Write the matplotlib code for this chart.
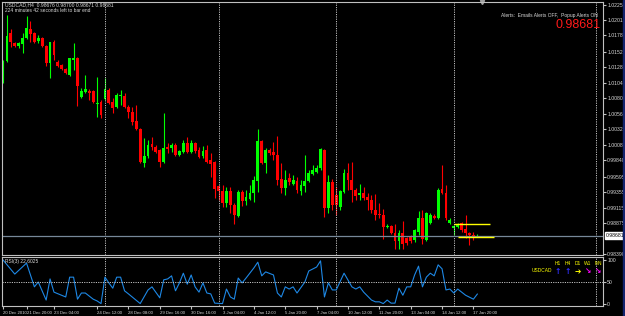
import numpy as np
import matplotlib
matplotlib.use('Agg')
import matplotlib.pyplot as plt
import matplotlib.transforms as mtrans
from matplotlib.patches import Rectangle

# USDCAD H4 candles, 20 Dec 2010 .. 17 Jan 2011
opens = [1.01385, 1.01385, 1.01819, 1.01664, 1.01618, 1.01649, 1.01742, 1.01881, 1.01819, 1.01695,
         1.01742, 1.01618, 1.01354, 1.01680, 1.01370, 1.01323, 1.01261, 1.01168, 1.01401, 1.01432,
         1.00827, 1.00905, 1.00920, 1.00920, 1.00719, 1.00750, 1.00796, 1.00936, 1.00750, 1.00672,
         1.00843, 1.00843, 1.00672, 1.00595, 1.00455, 1.00331, 0.99805, 0.99913, 1.00099, 1.00053,
         1.00006, 0.99820, 1.00053, 1.00037, 1.00084, 0.99929, 0.99975, 1.00115, 0.99975, 1.00115,
         1.00006, 0.99913, 1.00006, 0.99851, 0.99820, 0.99448, 0.99371, 0.99185, 0.99371, 0.99154,
         0.98983, 0.99355, 0.99216, 0.99247, 0.99340, 0.99526, 1.00146, 0.99805, 1.00006, 0.99975,
         0.99929, 0.99557, 0.99417, 0.99572, 0.99479, 0.99526, 0.99371, 0.99448, 0.99526, 0.99634,
         0.99665, 0.99727, 1.00006, 0.99107, 0.99510, 0.99309, 0.99123, 0.99355, 0.99650, 0.99541,
         0.99386, 0.99309, 0.99340, 0.99278, 0.99231, 0.99076, 0.99014, 0.98999, 0.98813, 0.98828,
         0.98720, 0.98595, 0.98720, 0.98642, 0.98658, 0.98611, 0.98735, 0.98952, 0.98611, 0.98875,
         0.98983, 0.98952, 0.99402, 0.99340, 0.98875, 0.98797, 0.98813, 0.98875, 0.98782, 0.98720,
         0.98689, 0.98676]
highs = [1.01401, 1.02099, 1.01881, 1.01680, 1.01680, 1.01819, 1.02083, 1.02006, 1.01835, 1.01788,
         1.01757, 1.01633, 1.01680, 1.01711, 1.01401, 1.01339, 1.01277, 1.01432, 1.01664, 1.01447,
         1.00967, 1.01168, 1.00951, 1.00936, 1.01137, 1.00781, 1.01122, 1.00967, 1.00812, 1.00889,
         1.00936, 1.00889, 1.00703, 1.00672, 1.00703, 1.00347, 1.00192, 1.00161, 1.00207, 1.00084,
         1.00022, 1.00579, 1.00115, 1.00115, 1.00115, 1.00006, 1.00161, 1.00207, 1.00161, 1.00130,
         1.00053, 1.00068, 1.00084, 0.99960, 0.99836, 0.99464, 0.99464, 0.99433, 0.99433, 0.99185,
         0.99386, 0.99386, 0.99386, 0.99464, 0.99603, 1.00331, 1.00161, 1.00037, 1.00037, 1.00130,
         1.00223, 0.99805, 0.99696, 0.99650, 0.99619, 0.99588, 0.99541, 0.99929, 0.99696, 0.99774,
         0.99774, 1.00037, 1.00022, 0.99619, 0.99557, 0.99433, 0.99386, 0.99712, 0.99805, 0.99820,
         0.99417, 0.99479, 0.99433, 0.99340, 0.99309, 0.99324, 0.99185, 0.99092, 0.98859, 0.98844,
         0.98859, 0.98766, 0.98906, 0.98658, 0.98689, 0.98782, 0.99061, 0.99076, 0.99045, 0.99030,
         0.99014, 0.99417, 0.99774, 0.99464, 0.98952, 0.98844, 0.98875, 0.98890, 0.98999, 0.98735,
         0.98735, 0.98700]
lows = [1.01044, 1.01370, 1.01602, 1.01602, 1.01587, 1.01509, 1.01726, 1.01680, 1.01664, 1.01664,
        1.01602, 1.01308, 1.01122, 1.01401, 1.01292, 1.01246, 1.01184, 1.01153, 1.01246, 1.00688,
        1.00812, 1.00889, 1.00781, 1.00734, 1.00517, 1.00502, 1.00781, 1.00719, 1.00579, 1.00657,
        1.00703, 1.00657, 1.00502, 1.00393, 1.00316, 0.99805, 0.99743, 0.99882, 1.00006, 0.99960,
        0.99743, 0.99805, 0.99960, 0.99975, 0.99913, 0.99913, 0.99960, 0.99960, 0.99960, 0.99960,
        0.99882, 0.99882, 0.99805, 0.99588, 0.99262, 0.99231, 0.99123, 0.99123, 0.99030, 0.98859,
        0.98968, 0.99138, 0.99154, 0.99231, 0.99200, 0.99355, 0.99789, 0.99650, 0.99929, 0.99851,
        0.99464, 0.99340, 0.99309, 0.99464, 0.99464, 0.99340, 0.99309, 0.99355, 0.99510, 0.99619,
        0.99650, 0.99696, 0.98968, 0.99030, 0.99076, 0.98999, 0.99076, 0.99340, 0.99386, 0.99200,
        0.99231, 0.99231, 0.99231, 0.99076, 0.99030, 0.98921, 0.98952, 0.98627, 0.98797, 0.98704,
        0.98471, 0.98471, 0.98471, 0.98533, 0.98564, 0.98580, 0.98689, 0.98549, 0.98595, 0.98859,
        0.98937, 0.98937, 0.99324, 0.98921, 0.98859, 0.98689, 0.98797, 0.98735, 0.98642, 0.98533,
        0.98611, 0.98671]
closes = [1.01392, 1.01773, 1.01680, 1.01618, 1.01664, 1.01742, 1.01897, 1.01804, 1.01680, 1.01742,
          1.01618, 1.01354, 1.01680, 1.01478, 1.01308, 1.01261, 1.01199, 1.01432, 1.01432, 1.00998,
          1.00920, 1.00951, 1.00889, 1.00750, 1.00734, 1.00548, 1.00951, 1.00734, 1.00657, 1.00858,
          1.00858, 1.00672, 1.00595, 1.00440, 1.00331, 0.99820, 0.99913, 1.00084, 1.00053, 0.99975,
          0.99820, 1.00037, 1.00022, 1.00084, 0.99929, 0.99991, 1.00115, 0.99975, 1.00115, 0.99991,
          0.99898, 0.99991, 0.99820, 0.99789, 0.99402, 0.99371, 0.99185, 0.99371, 0.99154, 0.98999,
          0.99355, 0.99216, 0.99278, 0.99340, 0.99541, 1.00146, 0.99805, 1.00006, 0.99960, 0.99929,
          0.99541, 0.99417, 0.99541, 0.99510, 0.99541, 0.99386, 0.99464, 0.99526, 0.99650, 0.99696,
          0.99727, 1.00022, 0.99107, 0.99510, 0.99154, 0.99154, 0.99371, 0.99650, 0.99541, 0.99386,
          0.99293, 0.99340, 0.99262, 0.99231, 0.99076, 0.98999, 0.98999, 0.98813, 0.98828, 0.98720,
          0.98595, 0.98720, 0.98549, 0.98564, 0.98595, 0.98766, 0.98952, 0.98627, 0.99030, 0.98999,
          0.98952, 0.99386, 0.99340, 0.98952, 0.98921, 0.98828, 0.98844, 0.98766, 0.98720, 0.98689,
          0.98658, 0.98681]

# RSI(3) read at the turning points (bar index, value)
rsi_bar = [0, 3, 6, 8, 9, 11, 12, 13, 16, 17, 18, 19, 20, 21, 23, 24, 25, 26, 27, 28, 29, 30, 31, 32,
           35, 37, 38, 40, 41, 42, 43, 44, 45, 46, 47, 48, 49, 50, 51, 52, 53, 54, 56, 57, 58, 59, 60,
           61, 62, 64, 65, 66, 67, 69, 70, 71, 72, 73, 74, 75, 77, 78, 80, 81, 82, 83, 84, 85, 87, 89,
           90, 91, 92, 94, 95, 96, 97, 98, 99, 100, 101, 102, 103, 104, 105, 106, 107, 108, 109, 110,
           111, 112, 113, 114, 115, 116, 118, 120, 121]
rsi_val = [100, 68, 93, 39, 50, 9, 57, 27, 16, 61, 61, 11, 25, 25, 11, 7, 1, 61, 48, 36, 61, 61, 30, 23,
           1, 32, 39, 14, 55, 57, 64, 30, 48, 70, 45, 66, 39, 27, 48, 25, 23, 2, 1, 34, 16, 11, 59,
           48, 59, 82, 95, 64, 73, 66, 25, 16, 39, 34, 39, 25, 50, 75, 84, 98, 16, 48, 32, 32, 70, 39,
           34, 39, 27, 9, 5, 5, 1, 9, 2, 2, 36, 20, 39, 39, 66, 86, 39, 61, 70, 64,
           89, 80, 32, 34, 25, 34, 20, 11, 22.6]

price_ticks = [1.02258, 1.02018, 1.01785, 1.01525, 1.01285, 1.01045, 1.00808, 1.00568, 1.00328,
               1.00088, 0.99848, 0.99595, 0.99355, 0.99115, 0.98875, 0.98390]
bid = 0.98681

date_bars = [0, 6, 13, 24, 32, 40, 48, 56, 64, 72, 80, 88, 96, 104, 112, 120]
date_labels = ['20 Dec 2010', '21 Dec 20:00', '23 Dec 04:00', '24 Dec 12:00', '28 Dec 08:00',
               '29 Dec 16:00', '30 Dec 16:00', '3 Jan 04:00', '4 Jan 12:00', '5 Jan 20:00',
               '7 Jan 04:00', '10 Jan 12:00', '11 Jan 20:00', '13 Jan 04:00', '14 Jan 12:00',
               '17 Jan 20:00']
separator_bars = [26, 55, 85, 115, 151.3]

line_levels = [0.98860, 0.98658]
line_start = [115, 116]
line_end = [124.2, 125.3]

mtf_frames = ['H1', 'H4', 'D1', 'W1', 'MN']
mtf_arrows = ['\u2191', '\u2191', '\u2794', '\u2198', '\u2198']
mtf_colors = ['#3030ff', '#3030ff', '#ffff00', '#ff00ff', '#ff00ff']

W, H = 625, 316
GRID = '#c0c0c0'
TXT = '#d8d8d8'
plt.rcParams['font.family'] = ['Liberation Sans', 'DejaVu Sans']


def box(x0, y0, x1, y1):
    return [x0 / W, 1 - y1 / H, (x1 - x0) / W, (y1 - y0) / H]


fig = plt.figure(figsize=(W / 100, H / 100), dpi=100, facecolor='black')
ax = fig.add_axes(box(2, 2, 603, 255), facecolor='black')
rx = fig.add_axes(box(2, 257, 603, 306), facecolor='black', sharex=ax)

o, h, l, c = map(np.array, (opens, highs, lows, closes))
bars = np.arange(len(c))
col = np.where(c >= o, '#00ff00', '#ff0000')
ax.vlines(bars, l, h, colors=col, lw=0.8)
ax.bar(bars, np.maximum(np.abs(c - o), 0.00004), bottom=np.minimum(o, c), width=0.72,
       color=col, linewidth=0)

ax.set_xlim(-0.26, 153.06)
ax.set_ylim(0.98379, 1.02300)

for a in (ax, rx):
    for s in a.spines.values():
        s.set_color(GRID)
        s.set_linewidth(0.8)
    for b in separator_bars:
        a.axvline(b, color=GRID, lw=0.7, ls=(0, (1.2, 1.2)))

ax.axhline(bid, color='#778899', lw=0.9)
ax.hlines(line_levels, line_start, line_end, colors='#ffff00', lw=1)

# price scale
ax.yaxis.tick_right()
ax.set_yticks(price_ticks)
ax.set_yticklabels(['%.5f' % v for v in price_ticks])
ax.tick_params(axis='y', colors=GRID, labelcolor=TXT, labelsize=3.7, length=2, pad=1)
ax.tick_params(axis='x', bottom=False, labelbottom=False)
ytr = mtrans.blended_transform_factory(ax.transAxes, ax.transData)
ax.text(1.004, bid, '%.5f' % bid, transform=ytr, ha='left', va='center', fontsize=3.7,
        color='black', bbox=dict(boxstyle='square,pad=0.15', fc='white', ec='white'), clip_on=False)
ax.plot([122.2], [1.0], transform=mtrans.blended_transform_factory(ax.transData, ax.transAxes),
        marker='v', ms=3, color='#a0a0a0', clip_on=False)

# RSI panel
rx.plot(rsi_bar, rsi_val, color='#1e88e5', lw=0.8)
rx.axhline(50, color=GRID, lw=0.7, ls=(0, (1.2, 1.2)))
rx.set_ylim(-4.5, 106.8)
rx.yaxis.tick_right()
rx.set_yticks([0, 50, 100])
rx.tick_params(axis='y', colors=GRID, labelcolor=TXT, labelsize=3.7, length=2, pad=1)
rx.set_xticks(date_bars)
rx.set_xticklabels(date_labels, ha='left')
rx.tick_params(axis='x', colors=GRID, labelcolor=TXT, labelsize=3.1, length=2, pad=1.5)
rx.text(0.005, 0.9, 'RSI(3) 22.6025', transform=rx.transAxes, fontsize=3.5, color=TXT,
        ha='left', va='center')

for i, (fr, ar, cc) in enumerate(zip(mtf_frames, mtf_arrows, mtf_colors)):
    xb = 141.6 + i * 2.55
    rx.text(xb, 93, fr, fontsize=3.5, color='#ffff00', ha='center', va='center')
    rx.text(xb, 75, ar, fontsize=5.5, color=cc, ha='center', va='center',
            family='DejaVu Sans', fontweight='bold')
rx.text(140.2, 75, 'USDCAD', fontsize=3.5, color='#ffff00', ha='right', va='center')

# header texts
fig.text(5 / W, 1 - 2.5 / H, 'USDCAD,H4  0.98676 0.98700 0.98671 0.98681', fontsize=3.6,
         color=TXT, ha='left', va='top')
fig.text(5 / W, 1 - 8.5 / H, '224 minutes 42 seconds left to bar end', fontsize=3.5,
         color=TXT, ha='left', va='top')
fig.text(598 / W, 1 - 15 / H, 'Alerts:  Emails Alerts OFF,  Popup Alerts ON', fontsize=3.5,
         color=TXT, ha='right', va='center')
fig.text(601 / W, 1 - 25.5 / H, '%.5f' % bid, fontsize=9, color='#ff1a1a', ha='right',
         va='center')

fig.patches.append(Rectangle((622.5 / W, 0), 2.5 / W, 1, transform=fig.transFigure,
                             color='#14246e', zorder=5))

fig.savefig('out.png', dpi=100, facecolor='black')
